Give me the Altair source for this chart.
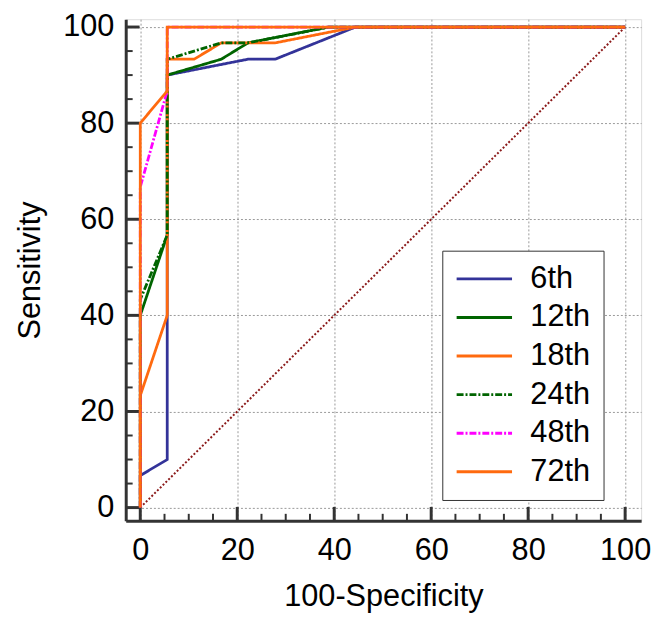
import altair as alt
import pandas as pd

FONT = "Liberation Sans"

series_names = ["6th", "12th", "18th", "24th", "48th", "72th"]
series_colors = ["#333399", "#006400", "#ff6a0f", "#006400", "#ff00ff", "#ff6a0f"]
series_dash = [[1, 0], [1, 0], [1, 0], [7, 2, 2, 2], [7, 2, 2, 2], [1, 0]]

fpr_6th = [0, 0, 5.56, 5.56, 22.2, 27.8, 44.4, 100]
tpr_6th = [0, 6.67, 10, 90, 93.3, 93.3, 100, 100]
fpr_12th = [0, 0, 5.56, 5.56, 16.7, 22.2, 38.9, 100]
tpr_12th = [0, 40, 56.7, 90, 93.3, 96.7, 100, 100]
fpr_18th = [0, 0, 5.56, 5.56, 11.1, 16.7, 27.8, 44.4, 100]
tpr_18th = [0, 23.3, 40, 93.3, 93.3, 96.7, 96.7, 100, 100]
fpr_24th = [0, 0, 5.56, 5.56, 16.7, 22.2, 38.9, 100]
tpr_24th = [0, 43.3, 56.7, 93.3, 96.7, 96.7, 100, 100]
fpr_48th = [0, 0, 5.56, 5.56, 100]
tpr_48th = [0, 66.7, 86.7, 100, 100]
fpr_72th = [0, 0, 5.56, 5.56, 100]
tpr_72th = [0, 80, 86.7, 100, 100]

diag_x = [0, 100]
diag_y = [0, 100]

major_ticks = [0, 20, 40, 60, 80, 100]
minor_ticks = [5, 10, 15, 25, 30, 35, 45, 50, 55, 65, 70, 75, 85, 90, 95]

all_fpr = [fpr_6th, fpr_12th, fpr_18th, fpr_24th, fpr_48th, fpr_72th]
all_tpr = [tpr_6th, tpr_12th, tpr_18th, tpr_24th, tpr_48th, tpr_72th]

rows = []
for name, xs, ys in zip(series_names, all_fpr, all_tpr):
    for i, (x, y) in enumerate(zip(xs, ys)):
        rows.append({"series": name, "fpr": x, "tpr": y, "idx": i})
df = pd.DataFrame(rows)
df_diag = pd.DataFrame({"fpr": diag_x, "tpr": diag_y})
df_major = pd.DataFrame({"v": major_ticks})
df_minor = pd.DataFrame({"v": minor_ticks})

W, H = 521, 507
xscale = alt.Scale(domain=[-3, 103.3], nice=False, zero=False)
yscale = alt.Scale(domain=[-2.74, 101.63], nice=False, zero=False)

common_axis = dict(
    values=major_ticks, labelFontSize=31, titleFontSize=31, titleFontWeight="normal",
    labelColor="black", titleColor="black", labelFont=FONT, titleFont=FONT,
    ticks=False, domainColor="#333333", domainWidth=3, grid=True,
    gridColor="#999999", gridDash=[2, 2], gridWidth=1, labelFlush=False,
)
x_axis = alt.Axis(title="100-Specificity", labelPadding=15, titlePadding=17, **common_axis)
y_axis = alt.Axis(title="Sensitivity", labelPadding=12, titleX=-80, **common_axis)

legend = alt.Legend(
    orient="none", legendX=320, legendY=234, title=None,
    labelFontSize=31, labelFont=FONT, labelColor="black",
    symbolType="M-1,0H3", symbolSize=784, symbolStrokeWidth=3,
    labelOffset=45, padding=13, rowPadding=7,
    strokeColor="#333333", fillColor="white",
)

diag = alt.Chart(df_diag).mark_line(color="#8b1a1a", strokeDash=[2, 2], strokeWidth=2).encode(
    x=alt.X("fpr:Q", scale=xscale, axis=x_axis),
    y=alt.Y("tpr:Q", scale=yscale, axis=y_axis),
)

lines = alt.Chart(df).mark_line(strokeWidth=2.8).encode(
    x=alt.X("fpr:Q", scale=xscale, axis=x_axis),
    y=alt.Y("tpr:Q", scale=yscale, axis=y_axis),
    color=alt.Color("series:N", scale=alt.Scale(domain=series_names, range=series_colors), legend=legend, sort=series_names),
    strokeDash=alt.StrokeDash("series:N", scale=alt.Scale(domain=series_names, range=series_dash), legend=legend, sort=series_names),
    order=alt.Order("idx:Q"),
)

tick_color = "#333333"
xt_major = alt.Chart(df_major).mark_rule(color=tick_color, strokeWidth=3).encode(
    x=alt.X("v:Q", scale=xscale, axis=x_axis), y=alt.value(H), y2=alt.value(H - 14))
xt_minor = alt.Chart(df_minor).mark_rule(color=tick_color, strokeWidth=2).encode(
    x=alt.X("v:Q", scale=xscale, axis=x_axis), y=alt.value(H), y2=alt.value(H - 7))
yt_major = alt.Chart(df_major).mark_rule(color=tick_color, strokeWidth=3).encode(
    y=alt.Y("v:Q", scale=yscale, axis=y_axis), x=alt.value(0), x2=alt.value(14))
yt_minor = alt.Chart(df_minor).mark_rule(color=tick_color, strokeWidth=2).encode(
    y=alt.Y("v:Q", scale=yscale, axis=y_axis), x=alt.value(0), x2=alt.value(7))

chart = alt.layer(diag, xt_major, xt_minor, yt_major, yt_minor, lines).properties(
    width=W, height=H,
    autosize=alt.AutoSizeParams(type="none"),
    padding={"left": 119, "top": 8, "right": 12, "bottom": 97},
).configure_view(stroke=None).configure(background="white")

chart.save("out.html", embed_options={"renderer": "svg", "actions": False})
